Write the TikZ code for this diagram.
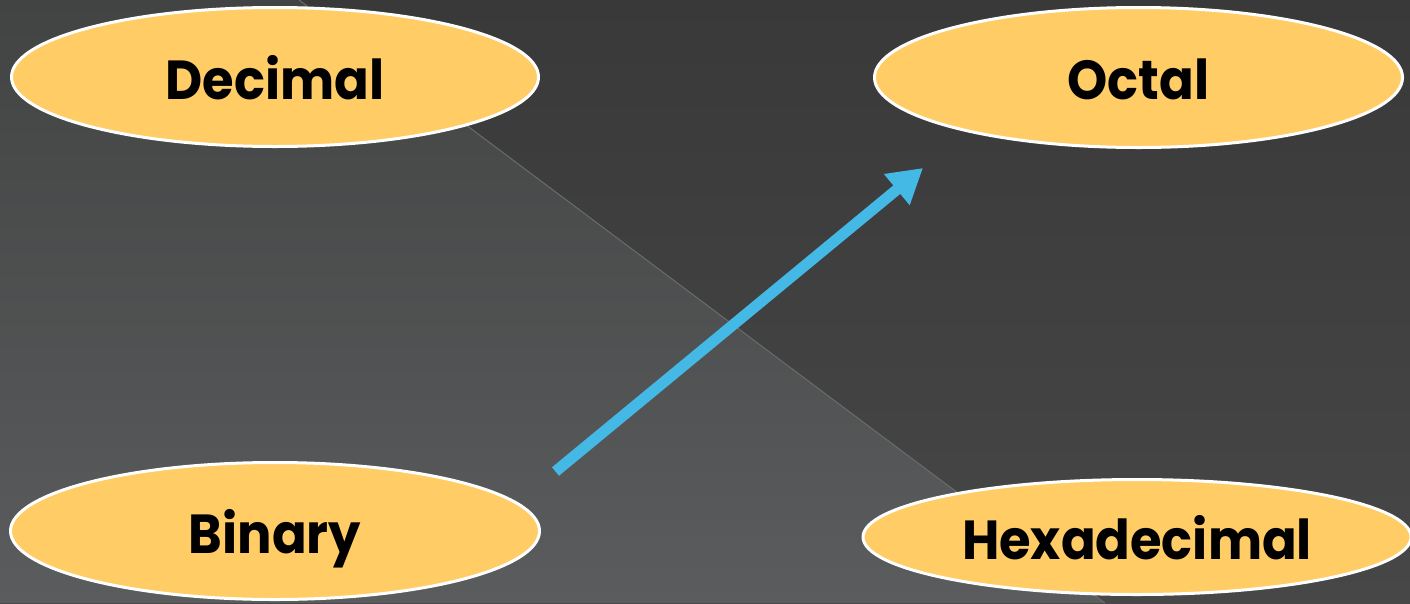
\documentclass[tikz,border=0pt]{standalone}
\usepackage{fontspec}
\setmainfont{Poppins}[FakeStretch=0.93]
\usetikzlibrary{shapes.geometric,arrows.meta}
\definecolor{bgLtop}{HTML}{424343}
\definecolor{bgLbot}{HTML}{5B5C5D}
\definecolor{bgRtop}{HTML}{393939}
\definecolor{bgRbot}{HTML}{474747}
\definecolor{divline}{HTML}{6A6B6B}
\definecolor{ovalfill}{HTML}{FFCC66}
\definecolor{arrowblue}{HTML}{45B9E6}
\tikzset{
  oval/.style={ellipse, fill=ovalfill, draw=white, line width=3pt, inner sep=0pt,
    text height=44pt, text depth=0pt, font=\fontsize{55}{60}\selectfont\bfseries, text=black},
  bluearrow/.style={draw=arrowblue, line width=11pt,
    -{Triangle[length=34pt,width=38pt]}}
}
\begin{document}
\begin{tikzpicture}[x=1pt,y=-1pt]
\useasboundingbox (0,0) rectangle (1410,603);
% background
\shade[top color=bgRtop, bottom color=bgRbot] (0,0) rectangle (1410,603);
\shade[top color=bgLtop, bottom color=bgLbot] (0,0) -- (299,0) -- (1105,603) -- (0,603) -- cycle;
\draw[divline, line width=1pt] (299,0) -- (1105,603);
% ovals
\node[oval, minimum width=527pt, minimum height=139pt] (dec) at (275,77) {Decimal};
\node[oval, minimum width=528pt, minimum height=140pt] (oct) at (1138.5,77.5) {Octal};
\node[oval, minimum width=529pt, minimum height=137pt] (bin) at (275,531) {Binary};
\node[oval, minimum width=548pt, minimum height=115pt] (hex) at (1137,537) {Hexadecimal};
% arrow
\coordinate (atail) at (555.5,471.5);
\coordinate (ahead) at (923,168);
\draw[bluearrow] (atail) -- (ahead);
\end{tikzpicture}
\end{document}
